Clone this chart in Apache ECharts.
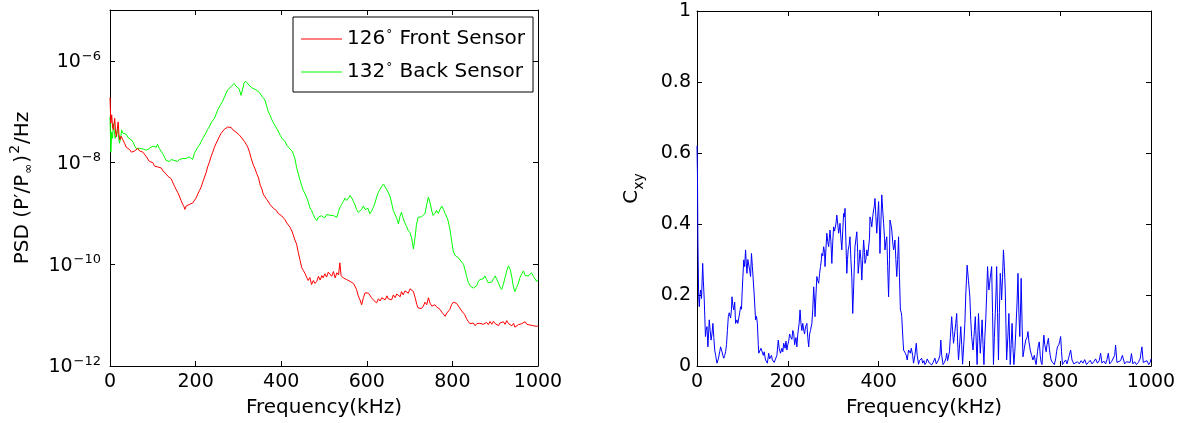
<!DOCTYPE html>
<html>
<head>
<meta charset="utf-8">
<script src="https://cdn.jsdelivr.net/npm/echarts@6/dist/echarts.min.js"></script>
<style>
html,body{margin:0;padding:0;background:#fff;}
#c{width:1183px;height:423px;}
</style>
</head>
<body>
<div id="c"></div>
<script>
// ---------- DATA ----------
const seriesNames = ['126° Front Sensor', '132° Back Sensor'];
const freqTicks = [0, 200, 400, 600, 800, 1000];
const psdTickExponents = [-12, -10, -8, -6];
const cxyTicks = [0, 0.2, 0.4, 0.6, 0.8, 1];

// PSD front sensor: [frequency kHz, PSD]
const frontPSD = [
[0,1.9e-7],[2,6e-8],[4,8.7e-8],[6,5e-8],[8,4.4e-8],[11,7.4e-8],[13,4e-8],[15,3.2e-8],[17,4.5e-8],[19,6.3e-8],
[21,3.5e-8],[23,2.8e-8],[26,3.3e-8],[30,2.8e-8],[34,2.4e-8],[38,2.0e-8],[42,2.1e-8],[46,1.8e-8],[50,1.6e-8],[54,1.5e-8],
[58,1.7e-8],[62,1.8e-8],[65,1.9e-8],[69,1.7e-8],[73,1.8e-8],[77,1.6e-8],[81,1.5e-8],[85,1.3e-8],[88,1.2e-8],[92,1.05e-8],
[96,9.6e-9],[100,1.0e-8],[104,8.5e-9],[108,8.8e-9],[112,8.2e-9],[116,7.5e-9],[120,7.8e-9],[124,6.8e-9],[127,6.5e-9],[131,6.0e-9],
[135,5.4e-9],[139,5.0e-9],[143,4.8e-9],[147,4.0e-9],[151,3.4e-9],[155,2.9e-9],[158,2.6e-9],[162,2.2e-9],[166,1.8e-9],[170,1.5e-9],
[173,1.35e-9],[175,1.2e-9],[178,1.4e-9],[181,1.3e-9],[185,1.5e-9],[189,1.45e-9],[193,1.6e-9],[197,1.66e-9],[201,2.0e-9],[205,2.4e-9],
[209,2.8e-9],[213,3.3e-9],[217,4.2e-9],[221,5.2e-9],[225,6.5e-9],[228,8.2e-9],[232,1.0e-8],[236,1.3e-8],[240,1.6e-8],[244,2.0e-8],
[248,2.4e-8],[252,2.8e-8],[256,3.3e-8],[259,3.7e-8],[263,4.0e-8],[267,4.5e-8],[271,4.7e-8],[275,5.0e-8],[279,4.6e-8],[283,4.9e-8],
[287,4.4e-8],[290,4.4e-8],[294,4.0e-8],[298,3.8e-8],[302,3.5e-8],[306,3.2e-8],[310,2.9e-8],[314,2.6e-8],[318,2.3e-8],[322,2.0e-8],
[326,1.6e-8],[330,1.2e-8],[335,8.9e-9],[339,7.5e-9],[343,6.0e-9],[347,5.0e-9],[351,3.6e-9],[355,3.0e-9],[358,2.4e-9],[362,2.3e-9],
[366,1.9e-9],[370,1.8e-9],[374,1.5e-9],[378,1.4e-9],[382,1.25e-9],[385,1.3e-9],[389,1.14e-9],[393,1.0e-9],[397,9.5e-10],[401,9.0e-10],
[405,8.4e-10],[409,7.5e-10],[413,6.5e-10],[417,6.0e-10],[421,5.3e-10],[425,4.5e-10],[429,3.6e-10],[432,3.0e-10],[436,2.5e-10],[440,1.7e-10],
[444,1.2e-10],[448,8.6e-11],[452,7.5e-11],[456,6.5e-11],[460,5.4e-11],[463,4.8e-11],[467,5.5e-11],[471,4.0e-11],[475,4.8e-11],[479,4.2e-11],
[483,4.6e-11],[487,5.8e-11],[491,4.9e-11],[495,6.0e-11],[498,5.4e-11],[502,6.5e-11],[506,5.6e-11],[510,7.0e-11],[514,7.4e-11],[518,5.8e-11],
[522,7.2e-11],[526,5.4e-11],[530,6.8e-11],[534,6.2e-11],[537,1.07e-10],[540,6.0e-11],[545,5.4e-11],[549,5.8e-11],[553,5.0e-11],[557,5.2e-11],
[561,4.6e-11],[565,4.8e-11],[569,4.2e-11],[572,4.0e-11],[576,3.2e-11],[580,2.4e-11],[584,2.0e-11],[588,1.6e-11],[592,2.2e-11],[596,2.75e-11],
[600,2.6e-11],[604,2.7e-11],[607,2.5e-11],[611,2.2e-11],[615,2.0e-11],[619,1.9e-11],[623,1.74e-11],[627,2.1e-11],[631,1.9e-11],[635,2.2e-11],
[639,2.3e-11],[643,2.0e-11],[647,2.4e-11],[650,2.1e-11],[654,2.2e-11],[658,2.0e-11],[662,2.5e-11],[666,2.2e-11],[670,2.6e-11],[674,2.5e-11],
[678,2.3e-11],[681,2.9e-11],[685,2.5e-11],[689,3.0e-11],[693,3.2e-11],[697,2.7e-11],[701,3.3e-11],[705,3.5e-11],[709,2.9e-11],[713,2.2e-11],
[717,1.6e-11],[720,1.38e-11],[724,1.5e-11],[728,1.35e-11],[732,1.5e-11],[736,1.8e-11],[740,1.6e-11],[744,2.2e-11],[748,1.7e-11],[752,1.5e-11],
[755,1.38e-11],[759,1.6e-11],[763,1.45e-11],[767,1.5e-11],[771,1.3e-11],[775,1.15e-11],[779,1.05e-11],[783,9.5e-12],[787,1.1e-11],[790,1.2e-11],
[794,1.3e-11],[798,1.6e-11],[802,1.8e-11],[806,1.86e-11],[810,1.7e-11],[814,1.5e-11],[818,1.38e-11],[822,1.2e-11],[825,1.1e-11],[829,1.02e-11],
[833,8.5e-12],[837,7.5e-12],[841,6.8e-12],[845,6.4e-12],[849,7.0e-12],[853,6.2e-12],[857,6.8e-12],[860,6.3e-12],[864,6.9e-12],[868,6.4e-12],
[872,6.6e-12],[876,6.1e-12],[880,7.2e-12],[884,6.5e-12],[888,7.5e-12],[892,6.6e-12],[896,7.6e-12],[900,6.8e-12],[904,7.2e-12],[908,6.2e-12],
[911,7.0e-12],[915,6.4e-12],[919,7.4e-12],[923,6.6e-12],[927,7.8e-12],[931,6.8e-12],[935,7.0e-12],[939,6.2e-12],[943,6.9e-12],[946,5.8e-12],
[950,6.0e-12],[954,6.5e-12],[958,6.2e-12],[962,6.8e-12],[966,6.3e-12],[970,7.4e-12],[974,6.6e-12],[977,7.0e-12],[981,6.4e-12],[985,6.8e-12],
[989,6.2e-12],[993,6.5e-12],[997,6.0e-12],[1000,6.2e-12]
];

// PSD back sensor: [frequency kHz, PSD]
const backPSD = [
[0,8e-8],[2,1.6e-8],[4,4e-8],[6,3e-8],[8,5.9e-8],[10,4.2e-8],[12,3.0e-8],[15,3.2e-8],[18,4.5e-8],[20,3.2e-8],
[22,2.4e-8],[25,3.0e-8],[27,4.4e-8],[30,3.8e-8],[34,3.5e-8],[38,3.6e-8],[42,3.1e-8],[46,3.0e-8],[50,2.8e-8],[54,2.5e-8],
[58,2.1e-8],[61,1.9e-8],[65,2.0e-8],[69,1.9e-8],[73,2.0e-8],[77,1.85e-8],[81,1.9e-8],[85,1.75e-8],[88,1.75e-8],[92,1.9e-8],
[96,1.95e-8],[100,2.1e-8],[104,2.2e-8],[108,2.0e-8],[111,2.3e-8],[115,1.9e-8],[119,1.8e-8],[123,1.5e-8],[127,1.3e-8],[131,1.1e-8],
[135,1.15e-8],[139,1.05e-8],[143,1.15e-8],[147,1.1e-8],[150,1.1e-8],[154,1.2e-8],[158,1.05e-8],[162,1.15e-8],[166,1.1e-8],[170,1.2e-8],
[174,1.1e-8],[178,1.2e-8],[182,1.15e-8],[185,1.3e-8],[189,1.3e-8],[193,1.15e-8],[197,1.5e-8],[201,1.75e-8],[205,2.0e-8],[209,2.2e-8],
[213,2.6e-8],[217,3.0e-8],[220,3.2e-8],[224,3.8e-8],[228,4.5e-8],[232,5.0e-8],[236,6.0e-8],[240,6.5e-8],[244,7.4e-8],[248,9.0e-8],
[252,1.1e-7],[256,1.2e-7],[259,1.4e-7],[263,1.6e-7],[267,1.9e-7],[271,2.3e-7],[275,2.7e-7],[279,2.9e-7],[283,3.1e-7],[287,3.3e-7],
[290,3.6e-7],[294,3.2e-7],[298,3.5e-7],[302,2.8e-7],[306,2.1e-7],[310,2.8e-7],[313,3.6e-7],[317,4.0e-7],[321,3.7e-7],[325,3.3e-7],
[329,3.5e-7],[333,2.9e-7],[337,2.8e-7],[341,2.7e-7],[345,2.5e-7],[349,2.4e-7],[353,2.2e-7],[357,1.9e-7],[362,1.7e-7],[366,1.3e-7],
[370,1.0e-7],[374,8.5e-8],[378,7.0e-8],[382,6.0e-8],[386,5.5e-8],[390,4.6e-8],[394,4.0e-8],[398,3.4e-8],[402,3.0e-8],[405,2.8e-8],
[409,2.6e-8],[413,2.2e-8],[417,2.0e-8],[421,1.9e-8],[425,1.7e-8],[428,1.5e-8],[432,1.2e-8],[436,8.0e-9],[440,6.0e-9],[444,4.5e-9],
[448,3.5e-9],[452,2.8e-9],[456,2.4e-9],[460,2.0e-9],[464,1.6e-9],[467,1.3e-9],[471,1.14e-9],[475,9.5e-10],[479,8.0e-10],[483,7.2e-10],
[487,8.5e-10],[490,7.8e-10],[494,9.0e-10],[498,9.1e-10],[502,8.2e-10],[506,9.5e-10],[510,8.8e-10],[514,9.2e-10],[518,8.6e-10],[522,9.1e-10],
[526,9.8e-10],[530,8.4e-10],[534,1.1e-9],[538,1.35e-9],[541,1.5e-9],[545,1.7e-9],[549,2.0e-9],[553,1.8e-9],[557,2.0e-9],[561,2.25e-9],
[565,2.0e-9],[569,1.7e-9],[572,1.5e-9],[576,1.2e-9],[580,1.05e-9],[584,9.8e-10],[588,1.2e-9],[592,1.4e-9],[596,1.2e-9],[600,1.1e-9],
[603,1.25e-9],[607,9.8e-10],[611,1.1e-9],[615,1.3e-9],[619,1.6e-9],[623,2.1e-9],[627,2.6e-9],[631,3.0e-9],[635,3.4e-9],[639,3.8e-9],
[643,3.5e-9],[646,3.0e-9],[650,2.8e-9],[654,2.2e-9],[658,1.6e-9],[662,1.14e-9],[666,1.05e-9],[670,8.0e-10],[674,6.2e-10],[677,8.5e-10],
[681,1.05e-9],[685,8.0e-10],[689,6.5e-10],[693,5.5e-10],[697,4.6e-10],[701,4.2e-10],[705,3.2e-10],[709,2.0e-10],[713,3.5e-10],[716,6.0e-10],
[720,8.4e-10],[724,9.0e-10],[728,8.6e-10],[732,9.1e-10],[736,1.0e-9],[740,1.5e-9],[744,2.1e-9],[748,1.6e-9],[752,1.1e-9],[755,9.1e-10],
[759,1.0e-9],[763,1.14e-9],[767,1.0e-9],[771,1.2e-9],[775,1.4e-9],[779,1.2e-9],[783,1.0e-9],[787,8.5e-10],[790,7.2e-10],[794,5.0e-10],
[798,3.0e-10],[802,1.8e-10],[806,1.5e-10],[810,1.6e-10],[814,1.35e-10],[818,1.3e-10],[822,1.1e-10],[826,1.0e-10],[829,8.0e-11],[833,6.0e-11],
[837,4.4e-11],[841,3.8e-11],[845,3.5e-11],[849,3.4e-11],[853,3.2e-11],[857,3.8e-11],[860,4.5e-11],[864,5.0e-11],[868,4.6e-11],[872,5.2e-11],
[876,5.9e-11],[880,5.0e-11],[884,4.3e-11],[888,4.0e-11],[892,4.5e-11],[896,5.2e-11],[900,5.9e-11],[904,5.0e-11],[908,4.2e-11],[911,3.6e-11],
[915,3.2e-11],[919,4.0e-11],[923,5.5e-11],[927,7.5e-11],[931,9.3e-11],[935,8.0e-11],[939,5.5e-11],[942,3.8e-11],[946,2.9e-11],[950,3.5e-11],
[954,4.2e-11],[958,5.5e-11],[962,6.5e-11],[966,7.4e-11],[970,6.0e-11],[973,6.5e-11],[977,5.9e-11],[981,6.2e-11],[985,6.8e-11],[989,5.8e-11],
[993,5.4e-11],[997,4.6e-11],[1000,5.0e-11]
];

// Coherence Cxy: [frequency kHz, Cxy]
const coherence = [
[0,0.62],[1,0.54],[2,0.35],[3.7,0.195],[5,0.167],[6.5,0.2],[8,0.214],[10,0.19],[12.5,0.289],[14,0.24],[16,0.186],[18.6,0.083],[20,0.1],[22,0.111],[24,0.054],[25.5,0.09],[27,0.13],[29,0.1],[31,0.073],[33,0.09],[35,0.12],[37,0.08],[39,0.045],[41,0.03],[44,0.008],[47,0.02],[50,0.04],[52,0.054],[55,0.04],[57,0.03],[59,0.022],[61,0.03],[63,0.04],[65,0.06],[67,0.1],[69,0.139],[71,0.15],[74,0.135],[76,0.16],[77,0.195],[79,0.17],[81,0.158],[83,0.18],[85,0.12],[88,0.13],[90,0.12],[92,0.12],[94,0.15],[96,0.167],[98,0.16],[99,0.195],[101,0.25],[103,0.299],[105,0.28],[107,0.327],[108.5,0.29],[110,0.261],[112,0.3],[114,0.299],[116,0.27],[118,0.252],[120,0.317],[122,0.28],[124,0.28],[126,0.2],[129,0.13],[131,0.14],[133,0.12],[135,0.06],[136,0.036],[139,0.04],[141,0.05],[143,0.045],[146,0.03],[148,0.04],[151,0.017],[155,0.008],[158,0.036],[160,0.02],[162,0.015],[164,0.03],[166,0.017],[168,0.02],[170,0.01],[173,0.008],[176,0.03],[179,0.073],[181,0.05],[184,0.036],[187,0.05],[189,0.04],[191,0.064],[194,0.05],[196,0.07],[198,0.045],[200,0.06],[202,0.07],[204,0.09],[206,0.083],[209,0.075],[211,0.1],[213,0.092],[215,0.06],[218,0.08],[220,0.054],[222,0.09],[225,0.12],[227,0.158],[229,0.12],[231,0.1],[233,0.12],[235,0.101],[237,0.09],[239,0.11],[242,0.12],[244,0.08],[246,0.054],[248,0.09],[250,0.1],[253,0.12],[255,0.16],[257,0.223],[259,0.18],[260,0.139],[262,0.2],[264,0.252],[266,0.24],[268,0.233],[270,0.26],[272,0.28],[274,0.3],[275,0.317],[277,0.31],[279,0.336],[281,0.32],[282,0.28],[284,0.33],[286,0.374],[288,0.35],[290,0.336],[291.5,0.36],[293,0.383],[295,0.35],[297,0.289],[299,0.35],[301,0.392],[303,0.38],[304,0.383],[306,0.4],[308,0.425],[310,0.4],[312,0.374],[314,0.39],[315,0.402],[317,0.36],[319,0.327],[321,0.38],[323,0.43],[325,0.42],[326,0.444],[328,0.35],[330,0.261],[331.5,0.3],[333,0.327],[335,0.34],[337,0.364],[339,0.3],[341,0.25],[343,0.148],[345,0.22],[347,0.3],[348,0.336],[350,0.34],[352,0.378],[354,0.32],[355,0.261],[357,0.29],[359,0.327],[361,0.3],[363,0.242],[365,0.3],[367,0.355],[369,0.32],[370,0.289],[372,0.3],[374,0.327],[376,0.31],[378,0.308],[380,0.36],[381,0.42],[383,0.41],[385,0.392],[387,0.42],[389,0.44],[390.5,0.45],[392,0.472],[394,0.42],[396,0.374],[398,0.42],[400,0.463],[402,0.38],[403,0.317],[405,0.4],[407,0.482],[409,0.44],[411,0.402],[413,0.36],[414,0.327],[416,0.35],[418,0.364],[420,0.28],[422,0.195],[424,0.3],[425,0.411],[427,0.4],[429,0.383],[431,0.35],[433,0.327],[435,0.34],[436,0.355],[438,0.3],[440,0.252],[442,0.3],[444,0.364],[446,0.25],[448,0.158],[450,0.15],[451,0.139],[453,0.09],[455,0.045],[457,0.05],[459,0.036],[461,0.03],[463,0.017],[465,0.035],[466,0.045],[468,0.04],[470,0.036],[472,0.05],[473,0.054],[475,0.03],[477,0.008],[480,0.03],[483,0.064],[485,0.03],[488,0.005],[490,0.015],[492,0.01],[495,0.022],[497,0.008],[500,0.015],[502,0.004],[505,0.01],[507,0.02],[510,0.017],[512,0.008],[515,0.012],[517,0.003],[520,0.01],[522,0.015],[524,0.022],[527,0.006],[530,0.01],[532,0.017],[535,0.03],[537,0.073],[539,0.03],[542,0.004],[545,0.01],[548,0.02],[550,0.036],[552,0.015],[554,0.017],[556,0.04],[558,0.08],[561,0.139],[563,0.1],[565,0.064],[566.5,0.08],[568,0.097],[570,0.12],[572,0.148],[574,0.07],[576,0.017],[578,0.05],[581,0.111],[583,0.06],[585,0.005],[588,0.07],[590,0.12],[592,0.2],[595,0.284],[598,0.24],[601,0.195],[603,0.13],[605,0.083],[608,0.045],[611,0.1],[613,0.139],[615,0.07],[617,0.004],[619,0.1],[620,0.148],[622,0.09],[624,0.036],[626,0.08],[628,0.13],[630,0.06],[632,0.004],[634,0.08],[636,0.13],[638,0.2],[640,0.28],[642,0.23],[643,0.214],[646,0.25],[649,0.28],[651,0.15],[653,0.004],[655,0.08],[657,0.148],[659,0.22],[660,0.28],[662,0.15],[664,0.017],[666,0.15],[668,0.261],[670,0.22],[671,0.186],[673,0.25],[675,0.327],[677,0.28],[679,0.214],[681,0.08],[682,0.017],[685,0.09],[687,0.148],[689,0.05],[690,0.004],[692,0.06],[694,0.12],[696,0.05],[698,0.004],[700,0.04],[702,0.092],[705,0.18],[707,0.261],[709,0.15],[711,0.083],[713,0.18],[714,0.247],[716,0.12],[718,0.026],[721,0.05],[724,0.073],[727,0.08],[729,0.097],[731,0.07],[734,0.045],[737,0.03],[740,0.017],[743,0.03],[745,0.015],[747,0.004],[750,0.04],[752,0.06],[754,0.068],[756,0.03],[758,0.01],[760,0.004],[762,0.05],[764,0.087],[766,0.06],[769,0.04],[771,0.06],[774,0.078],[776,0.05],[778,0.03],[780,0.017],[783,0.01],[787,0.004],[790,0.02],[792,0.04],[794,0.054],[797,0.06],[799,0.07],[801,0.083],[803,0.04],[805,0.004],[808,0.01],[812,0.017],[815,0.006],[818,0.02],[820,0.03],[823,0.045],[826,0.017],[830,0.006],[834,0.004],[838,0.012],[842,0.006],[846,0.015],[850,0.008],[854,0.018],[858,0.004],[862,0.01],[866,0.016],[870,0.006],[874,0.012],[878,0.02],[882,0.008],[886,0.015],[889,0.036],[892,0.008],[896,0.014],[900,0.006],[903,0.018],[906,0.036],[909,0.006],[913,0.012],[917,0.01],[920,0.03],[922,0.059],[925,0.01],[929,0.006],[933,0.015],[937,0.03],[939,0.02],[942,0.006],[946,0.012],[950,0.008],[954,0.01],[957,0.035],[960,0.006],[964,0.012],[968,0.004],[972,0.01],[976,0.02],[980,0.054],[983,0.01],[987,0.006],[991,0.015],[995,0.004],[998,0.01],[1000,0.02]
];

// ---------- CHART ----------
const FONT = '"DejaVu Sans", Verdana, sans-serif';
const FS = 19;
const chart = echarts.init(document.getElementById('c'), null, {renderer: 'canvas'});

const black = '#000';
function frameX(gridIndex, pos, show) {
  return {
    type: 'value', gridIndex: gridIndex, position: pos, min: freqTicks[0], max: freqTicks[freqTicks.length - 1],
    interval: freqTicks[1] - freqTicks[0],
    axisLine: {show: true, onZero: false, lineStyle: {color: black, width: 1}},
    axisTick: {show: true, inside: true, length: 5, lineStyle: {color: black}},
    splitLine: {show: false},
    axisLabel: {show: show, color: black, fontSize: FS, fontFamily: FONT, margin: 7,
      formatter: function (v) { return String(v); }},
    name: show ? 'Frequency(kHz)' : '', nameLocation: 'middle', nameGap: 32,
    nameTextStyle: {color: black, fontSize: 20, fontFamily: FONT}
  };
}

const psdMin = Math.pow(10, psdTickExponents[0]);
const psdMax = 1e-5;

function psdY(pos, show) {
  return {
    type: 'log', logBase: 10, gridIndex: 0, position: pos, min: psdMin, max: psdMax,
    interval: psdTickExponents[1] - psdTickExponents[0],
    axisLine: {show: true, onZero: false, lineStyle: {color: black, width: 1}},
    axisTick: {show: true, inside: true, length: 5, lineStyle: {color: black}},
    minorTick: {show: false},
    splitLine: {show: false},
    axisLabel: {
      show: show, margin: 9, color: black, fontFamily: FONT,
      formatter: function (v) {
        const e = Math.round(Math.log10(v));
        if (psdTickExponents.indexOf(e) < 0) return '';
        return '{b|10}{s|' + (e < 0 ? '\u2212' : '') + Math.abs(e) + '}';
      },
      rich: {
        b: {fontSize: FS, fontFamily: FONT, color: black, lineHeight: 22, verticalAlign: 'bottom'},
        s: {fontSize: 13, fontFamily: FONT, color: black, lineHeight: 22, verticalAlign: 'top', padding: [0, 0, 0, 1]}
      }
    },
    name: show ? '{t|PSD (P\u2032/P}{sub|\u221e}{t|)}{sup|2}{t|/Hz}' : '',
    nameLocation: 'middle', nameRotate: 90, nameGap: 72,
    nameTextStyle: {
      color: black, fontFamily: FONT,
      rich: {
        t: {fontSize: 20, fontFamily: FONT, color: black, lineHeight: 30},
        sub: {fontSize: 12, fontFamily: FONT, color: black, lineHeight: 30, verticalAlign: 'bottom', padding: [0, 1, 3, 1]},
        sup: {fontSize: 14, fontFamily: FONT, color: black, lineHeight: 30, verticalAlign: 'top', padding: [0, 1, 0, 1]}
      }
    }
  };
}

function cxyY(pos, show) {
  return {
    type: 'value', gridIndex: 1, position: pos, min: cxyTicks[0], max: cxyTicks[cxyTicks.length - 1],
    interval: 0.2,
    axisLine: {show: true, onZero: false, lineStyle: {color: black, width: 1}},
    axisTick: {show: true, inside: true, length: 5, lineStyle: {color: black}},
    splitLine: {show: false},
    axisLabel: {show: show, color: black, fontSize: FS, fontFamily: FONT, margin: 6,
      formatter: function (v) { return String(Math.round(v * 10) / 10); }},
    name: show ? '{t|C}{sub|xy}' : '',
    nameLocation: 'middle', nameRotate: 90, nameGap: 50,
    nameTextStyle: {
      color: black, fontFamily: FONT,
      rich: {
        t: {fontSize: 20, fontFamily: FONT, color: black, lineHeight: 30},
        sub: {fontSize: 14, fontFamily: FONT, color: black, lineHeight: 30, verticalAlign: 'bottom', padding: [0, 0, 1, 0]}
      }
    }
  };
}

const option = {
  animation: false,
  backgroundColor: '#fff',
  grid: [
    {left: 110, top: 10, width: 428, height: 356, containLabel: false},
    {left: 697, top: 11, width: 454, height: 355, containLabel: false}
  ],
  legend: {
    data: seriesNames,
    orient: 'vertical', left: 293, top: 17,
    icon: 'rect', itemWidth: 41, itemHeight: 1, itemGap: 13,
    padding: [12, 8, 10, 8],
    borderColor: black, borderWidth: 1, backgroundColor: '#fff',
    selectedMode: false,
    formatter: function (name) {
      const i = name.indexOf('\u00b0');
      return '{t|' + name.slice(0, i) + '}{d|\u00b0}{t|' + name.slice(i + 1) + '}';
    },
    textStyle: {
      color: black, fontFamily: FONT, fontSize: 20,
      rich: {
        t: {fontSize: 20, fontFamily: FONT, color: black, lineHeight: 20},
        d: {fontSize: 12, fontFamily: FONT, color: black, lineHeight: 20, verticalAlign: 'top', padding: [0, 1, 0, 1]}
      }
    }
  },
  xAxis: [frameX(0, 'bottom', true), frameX(0, 'top', false), frameX(1, 'bottom', true), frameX(1, 'top', false)],
  yAxis: [psdY('left', true), psdY('right', false), cxyY('left', true), cxyY('right', false)],
  series: [
    {name: seriesNames[0], type: 'line', xAxisIndex: 0, yAxisIndex: 0, data: frontPSD, showSymbol: false, symbol: 'none',
      lineStyle: {color: '#ff0000', width: 1}, itemStyle: {color: '#ff0000'}, z: 3},
    {name: seriesNames[1], type: 'line', xAxisIndex: 0, yAxisIndex: 0, data: backPSD, showSymbol: false, symbol: 'none',
      lineStyle: {color: '#00ff00', width: 1}, itemStyle: {color: '#00ff00'}, z: 2},
    {name: 'Cxy', type: 'line', xAxisIndex: 2, yAxisIndex: 2, data: coherence, showSymbol: false, symbol: 'none',
      lineStyle: {color: '#0000ff', width: 1}, itemStyle: {color: '#0000ff'}}
  ]
};
chart.setOption(option);
</script>
</body>
</html>
